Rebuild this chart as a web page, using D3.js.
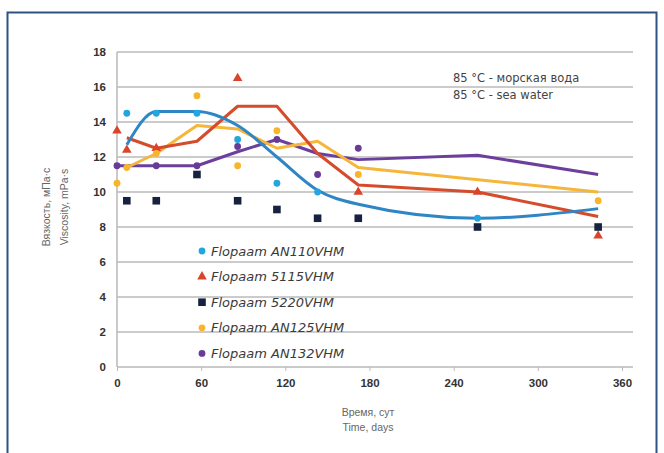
<!DOCTYPE html>
<html>
<head>
<meta charset="utf-8">
<script src="https://cdn.jsdelivr.net/npm/d3@7"></script>
<style>
  html, body { margin: 0; padding: 0; background: #fff; }
  svg { display: block; }
</style>
</head>
<body>
<div id="chart"></div>
<script>
// measurement days (x) shared by every series
const days = [0, 7, 28, 57, 86, 114, 143, 172, 257, 343];

// measured points (null = no visible marker)
const an110Points = [null, 14.5, 14.5, 14.5, 13.0, 10.5, 10.0, null, 8.5, null];
const s5115Points = [13.5, 12.4, 12.5, null, 16.5, null, null, 10.0, 10.0, 7.5];
const s5220Points = [null, 9.5, 9.5, 11.0, 9.5, 9.0, 8.5, 8.5, 8.0, 8.0];
const an125Points = [10.5, 11.4, 12.2, 15.5, 11.5, 13.5, null, 11.0, null, 9.5];
const an132Points = [11.5, null, 11.5, 11.5, 12.6, 13.0, 11.0, 12.5, null, null];

// trend lines drawn through the points
const an110Trend = [null, 12.7, 14.6, 14.6, 13.8, 12.0, 10.1, 9.3, 8.5, 9.05];
const s5115Trend = [null, 13.1, 12.5, 12.9, 14.9, 14.9, 12.2, 10.4, 10.0, 8.6];
const an125Trend = [null, 11.4, 12.2, 13.8, 13.6, 12.5, 12.9, 11.4, null, 10.0];
const an132Trend = [11.5, null, 11.5, 11.5, 12.3, 13.0, 12.2, 11.85, 12.1, 11.0];

const seriesNames = ["Flopaam AN110VHM", "Flopaam 5115VHM", "Flopaam 5220VHM", "Flopaam AN125VHM", "Flopaam AN132VHM"];
const xTicks = [0, 60, 120, 180, 240, 300, 360];
const yTicks = [0, 2, 4, 6, 8, 10, 12, 14, 16, 18];
const noteLines = ["85 °C - морская вода", "85 °C - sea water"];
const yTitle = ["Вязкость, мПа·с", "Viscosity, mPa·s"];
const xTitle = ["Время, сут", "Time, days"];

const W = 664, H = 453;
const plot = { left: 117, right: 633, top: 52, bottom: 367 };

const series = [
  { name: seriesNames[0], points: an110Points, trend: an110Trend, marker: "circle", color: "#22a6df", line: "#2f86c4", curve: d3.curveMonotoneX },
  { name: seriesNames[1], points: s5115Points, trend: s5115Trend, marker: "triangle", color: "#d9442b", line: "#d54b2c", curve: d3.curveLinear },
  { name: seriesNames[2], points: s5220Points, trend: null, marker: "square", color: "#16223f", line: null },
  { name: seriesNames[3], points: an125Points, trend: an125Trend, marker: "circle", color: "#f8b52c", line: "#f6b63a", curve: d3.curveLinear },
  { name: seriesNames[4], points: an132Points, trend: an132Trend, marker: "circle", color: "#6a3a98", line: "#6c3f9c", curve: d3.curveLinear },
];

const svg = d3.select("#chart").append("svg")
  .attr("width", W)
  .attr("height", H);

svg.append("rect").attr("width", W).attr("height", H).attr("fill", "#fff");

// outer frame
svg.append("rect")
  .attr("x", 7.5).attr("y", 12.5)
  .attr("width", 649).attr("height", H + 20)
  .attr("fill", "none")
  .attr("stroke", "#2f5280")
  .attr("stroke-width", 2);

const x = d3.scaleLinear().domain([0, 360]).range([117, 622]);
const y = d3.scaleLinear().domain([0, 18]).range([plot.bottom, plot.top]);

// horizontal grid
svg.append("g")
  .selectAll("line")
  .data(yTicks.filter(d => d > 0))
  .join("line")
  .attr("x1", plot.left).attr("x2", plot.right)
  .attr("y1", d => y(d)).attr("y2", d => y(d))
  .attr("stroke", "#cbcbcb")
  .attr("stroke-width", 2);

// axes lines
svg.append("line")
  .attr("x1", plot.left).attr("x2", plot.right)
  .attr("y1", y(0)).attr("y2", y(0))
  .attr("stroke", "#b9b9b9").attr("stroke-width", 1.5);
svg.append("line")
  .attr("x1", plot.left).attr("x2", plot.left)
  .attr("y1", y(18)).attr("y2", y(0))
  .attr("stroke", "#b9b9b9").attr("stroke-width", 1.5);

// x axis ticks + labels
const xAxis = svg.append("g")
  .attr("transform", `translate(0,${y(0)})`)
  .call(d3.axisBottom(x).tickValues(xTicks).tickSize(4).tickPadding(8));
xAxis.select(".domain").remove();
xAxis.selectAll(".tick line").attr("stroke", "#b9b9b9");
xAxis.selectAll("text")
  .attr("fill", "#333")
  .style("font", "bold 11.5px 'Liberation Sans', Arial, sans-serif");

// y axis labels
const yAxis = svg.append("g")
  .attr("transform", `translate(${plot.left},0)`)
  .call(d3.axisLeft(y).tickValues(yTicks).tickSize(0).tickPadding(11));
yAxis.select(".domain").remove();
yAxis.selectAll("text")
  .attr("fill", "#333")
  .style("font", "bold 11.5px 'Liberation Sans', Arial, sans-serif");

// trend lines
const drawOrder = [4, 3, 1, 0];
drawOrder.forEach(i => {
  const s = series[i];
  const pts = days.map((d, k) => [d, s.trend[k]]).filter(p => p[1] != null);
  svg.append("path")
    .datum(pts)
    .attr("fill", "none")
    .attr("stroke", s.line)
    .attr("stroke-width", 3)
    .attr("stroke-linejoin", "round")
    .attr("d", d3.line().x(p => x(p[0])).y(p => y(p[1])).curve(s.curve));
});

function marker(sel, type, color) {
  if (type === "square") {
    sel.append("rect").attr("x", -3.8).attr("y", -3.8).attr("width", 7.6).attr("height", 7.6).attr("fill", color);
  } else if (type === "triangle") {
    sel.append("path").attr("d", d3.symbol(d3.symbolTriangle, 40)()).attr("fill", color);
  } else {
    sel.append("circle").attr("r", 3.4).attr("fill", color);
  }
}

// point markers
series.forEach(s => {
  days.forEach((d, k) => {
    const v = s.points[k];
    if (v == null) return;
    const g = svg.append("g").attr("transform", `translate(${x(d)},${y(v)})`);
    marker(g, s.marker, s.color);
  });
});

// legend
const legend = svg.append("g");
series.forEach((s, i) => {
  const gy = 251 + i * 25.6;
  const g = legend.append("g").attr("transform", `translate(202,${gy})`);
  marker(g, s.marker, s.color);
  legend.append("text")
    .attr("x", 211).attr("y", gy + 4.5)
    .attr("fill", "#3a3a3a")
    .style("font", "italic 13px 'DejaVu Sans', sans-serif")
    .text(s.name);
});

// note
noteLines.forEach((t, i) => {
  svg.append("text")
    .attr("x", 453).attr("y", 82 + i * 17)
    .attr("fill", "#444")
    .style("font", "11.5px 'DejaVu Sans', sans-serif")
    .text(t);
});

// axis titles
yTitle.forEach((t, i) => {
  svg.append("text")
    .attr("transform", `translate(${50 + i * 18},207) rotate(-90)`)
    .attr("text-anchor", "middle")
    .attr("fill", "#666")
    .style("font", "10.5px 'Liberation Sans', Arial, sans-serif")
    .text(t);
});
xTitle.forEach((t, i) => {
  svg.append("text")
    .attr("x", 368).attr("y", 416 + i * 15)
    .attr("text-anchor", "middle")
    .attr("fill", "#666")
    .style("font", "10.5px 'Liberation Sans', Arial, sans-serif")
    .text(t);
});
</script>
</body>
</html>
